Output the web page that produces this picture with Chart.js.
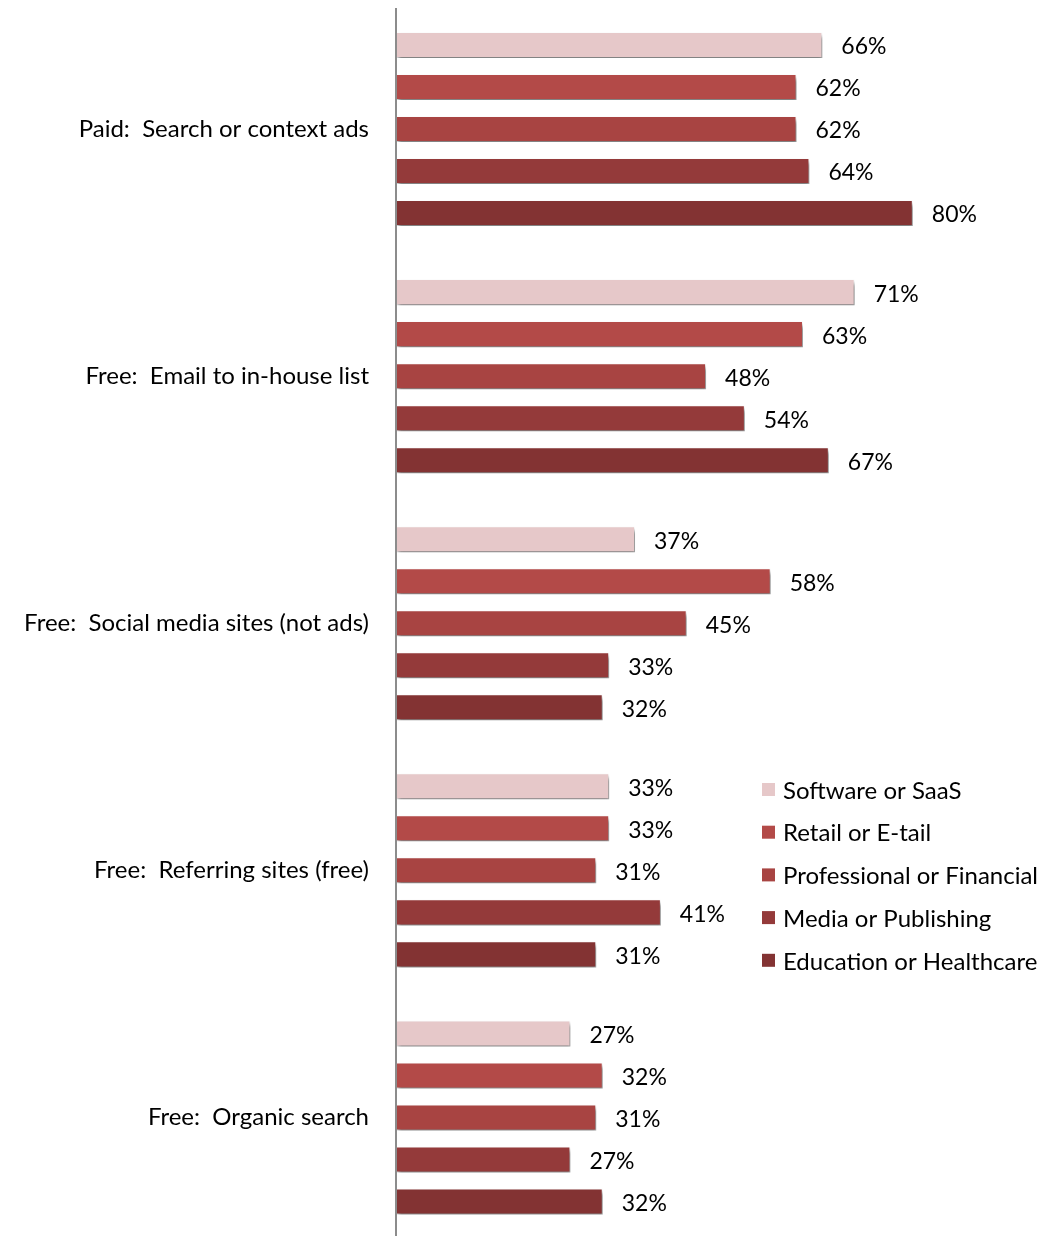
<!DOCTYPE html>
<html>
<head>
<meta charset="utf-8">
<script src="https://cdn.jsdelivr.net/npm/chart.js@4.4.1/dist/chart.umd.min.js"></script>
<style>
  html, body { margin: 0; padding: 0; background: #fff; overflow: hidden; }
  #wrap { position: relative; width: 1047px; height: 1241px; }
</style>
</head>
<body>
<div id="wrap"><canvas id="trafficChart"></canvas></div>
<script>
const categories = [
  "Paid:  Search or context ads",
  "Free:  Email to in-house list",
  "Free:  Social media sites (not ads)",
  "Free:  Referring sites (free)",
  "Free:  Organic search"
];
const seriesNames = [
  "Software or SaaS",
  "Retail or E-tail",
  "Professional or Financial",
  "Media or Publishing",
  "Education or Healthcare"
];
const software = [66, 71, 37, 33, 27];
const retail = [62, 63, 58, 33, 32];
const professional = [62, 48, 45, 31, 31];
const media = [64, 54, 33, 41, 27];
const education = [80, 67, 32, 31, 32];
const seriesColors = ["#E6C8C9", "#B34A48", "#A84442", "#943A3A", "#833333"];

const FONT = "Lato, 'Open Sans', sans-serif";

// ombre legere sous les barres
const shadowPlugin = {
  id: "barShadow",
  beforeDatasetsDraw(chart) {
    const ctx = chart.ctx;
    ctx.save();
    ctx.shadowColor = "rgba(0,0,0,0.5)";
    ctx.shadowBlur = 4;
    ctx.shadowOffsetX = 2;
    ctx.shadowOffsetY = 4;
  },
  afterDatasetsDraw(chart) {
    chart.ctx.restore();
  }
};

// etiquettes de valeur + axe vertical + legende
const labelPlugin = {
  id: "valueLabels",
  afterDraw(chart) {
    const ctx = chart.ctx;
    const area = chart.chartArea;
    ctx.save();
    ctx.strokeStyle = "#8c8c8c";
    ctx.lineWidth = 2;
    ctx.beginPath();
    ctx.moveTo(area.left, 8);
    ctx.lineTo(area.left, 1236);
    ctx.stroke();

    ctx.font = "23px " + FONT;
    ctx.fillStyle = "#000";
    ctx.textBaseline = "middle";
    ctx.textAlign = "left";
    chart.data.datasets.forEach((ds, i) => {
      chart.getDatasetMeta(i).data.forEach((bar, j) => {
        ctx.fillText(ds.data[j] + "%", bar.x + 19, bar.y + 2);
      });
    });

    // legende
    ctx.font = "24px " + FONT;
    chart.data.datasets.forEach((ds, i) => {
      const y = 790 + i * 42.7;
      ctx.fillStyle = ds.backgroundColor;
      ctx.fillRect(762, y - 7, 13, 13);
      ctx.fillStyle = "#000";
      ctx.fillText(ds.label, 783, y + 1);
    });
    ctx.restore();
  }
};

const ctx = document.getElementById("trafficChart").getContext("2d");
const trafficChart = new Chart(ctx, {
  type: "bar",
  data: {
    labels: categories,
    datasets: [software, retail, professional, media, education].map((vals, i) => ({
      label: seriesNames[i],
      data: vals,
      backgroundColor: seriesColors[i],
      borderColor: "rgba(255,255,255,0.6)",
      borderWidth: 1,
      categoryPercentage: 0.85,
      barPercentage: 0.62
    }))
  },
  options: {
    indexAxis: "y",
    responsive: true,
    maintainAspectRatio: false,
    animation: false,
    layout: { padding: { top: 5.5, bottom: 0, right: 5 } },
    plugins: {
      legend: { display: false },
      tooltip: { enabled: false }
    },
    scales: {
      x: {
        min: 0,
        max: 100,
        display: false
      },
      y: {
        grid: { display: false, drawTicks: false },
        border: { display: false },
        ticks: {
          color: "#000",
          font: { family: FONT, size: 24 },
          padding: 27
        },
        afterFit(scale) {
          scale.width = 396;
          scale.paddingTop = 0;
          scale.paddingBottom = 0;
        }
      }
    }
  },
  plugins: [shadowPlugin, labelPlugin]
});
</script>
</body>
</html>
